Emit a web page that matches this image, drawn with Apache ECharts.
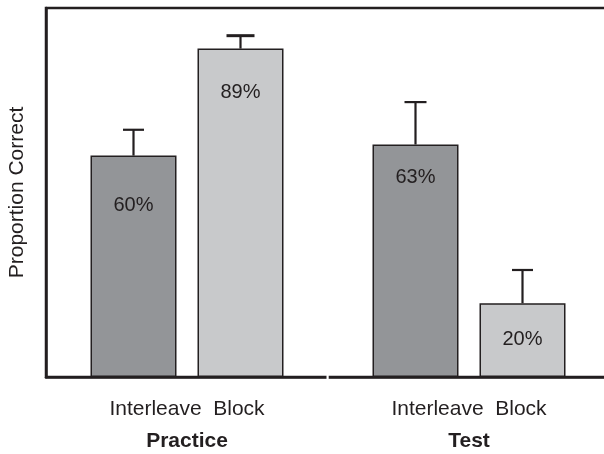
<!DOCTYPE html>
<html>
<head>
<meta charset="utf-8">
<script src="https://cdn.jsdelivr.net/npm/echarts@6/dist/echarts.min.js"></script>
<style>
html,body{margin:0;padding:0;background:#fff;}
#chart{width:604px;height:454px;}
</style>
</head>
<body>
<div id="chart"></div>
<script>
// ---- data ----
var phases = ['Practice', 'Test'];
var conditionLabels = ['Interleave', 'Block'];
var interleaveValues = [60, 63];
var blockValues = [89, 20];
var interleaveUpper = [67, 74.5];
var blockUpper = [92.5, 29];

// ---- styling ----
var ink = '#231f20';
var barWidth = 86;
var barGapPx = 21;
var labelDistInterleave = [40, 23];
var labelDistBlock = [34, 26];
var capHalfWidth = [[10.5, 11], [14, 10.5]];
var capLineWidth = [[2.2, 2.2], [3, 2.2]];

var chart = echarts.init(document.getElementById('chart'), null, {renderer: 'canvas'});

function barSeries(name, values, color, dists) {
  return {
    name: name,
    type: 'bar',
    barWidth: barWidth,
    barGap: (barGapPx / barWidth * 100) + '%',
    data: values.map(function (v, i) {
      return {
        value: v,
        label: {distance: dists[i]}
      };
    }),
    itemStyle: {color: color, borderColor: ink, borderWidth: 1.5},
    label: {
      show: true,
      position: 'insideTop',
      formatter: '{c}%',
      fontFamily: 'Liberation Sans, Arial, sans-serif',
      fontSize: 20,
      color: ink
    },
    z: 2
  };
}

function errorSeries(values, upper, sign, sIdx) {
  return {
    type: 'custom',
    z: 3,
    renderItem: function (params, api) {
      var idx = api.value(0);
      var top = api.coord([idx, api.value(2)]);
      var base = api.coord([idx, api.value(1)]);
      var x = top[0] + sign * (barWidth + barGapPx) / 2;
      var half = capHalfWidth[sIdx][idx];
      return {
        type: 'group',
        children: [
          {type: 'line', shape: {x1: x, y1: base[1], x2: x, y2: top[1]}, style: {stroke: ink, lineWidth: 2.2}},
          {type: 'line', shape: {x1: x - half, y1: top[1], x2: x + half, y2: top[1]}, style: {stroke: ink, lineWidth: capLineWidth[sIdx][idx]}}
        ]
      };
    },
    data: values.map(function (v, i) { return [i, v, upper[i]]; })
  };
}

var option = {
  animation: false,
  backgroundColor: '#ffffff',
  grid: {
    left: 46, top: 8, width: 564, bottom: 77,
    outerBoundsMode: 'none',
    containLabel: false,
    show: true, borderColor: ink, borderWidth: 2.5, backgroundColor: 'transparent'
  },
  xAxis: {
    type: 'category',
    data: phases,
    axisLine: {show: true, lineStyle: {color: ink, width: 2.5}},
    axisTick: {show: false},
    axisLabel: {
      margin: 20,
      interval: 0,
      formatter: function (v) {
        return '{a|' + conditionLabels[0] + '  ' + conditionLabels[1] + '}\n{b|' + v + '}';
      },
      rich: {
        a: {fontFamily: 'Liberation Sans, Arial, sans-serif', fontSize: 21, color: ink, lineHeight: 24},
        b: {fontFamily: 'Liberation Sans, Arial, sans-serif', fontSize: 21, fontWeight: 'bold', color: ink, lineHeight: 40}
      }
    }
  },
  yAxis: {
    type: 'value',
    min: 0,
    max: 100,
    name: 'Proportion Correct',
    nameLocation: 'middle',
    nameGap: 18,
    nameTextStyle: {fontFamily: 'Liberation Sans, Arial, sans-serif', fontSize: 21, color: ink},
    axisLine: {show: true, lineStyle: {color: ink, width: 2.5}},
    axisTick: {show: false},
    axisLabel: {show: false},
    splitLine: {show: false}
  },
  graphic: [
    {type: 'rect', shape: {x: 326.5, y: 374, width: 2.2, height: 6}, style: {fill: '#ffffff'}, z: 100}
  ],
  series: [
    barSeries('Interleave', interleaveValues, '#939598', labelDistInterleave),
    barSeries('Block', blockValues, '#c8c9cb', labelDistBlock),
    errorSeries(interleaveValues, interleaveUpper, -1, 0),
    errorSeries(blockValues, blockUpper, 1, 1)
  ]
};
chart.setOption(option);
</script>
</body>
</html>
